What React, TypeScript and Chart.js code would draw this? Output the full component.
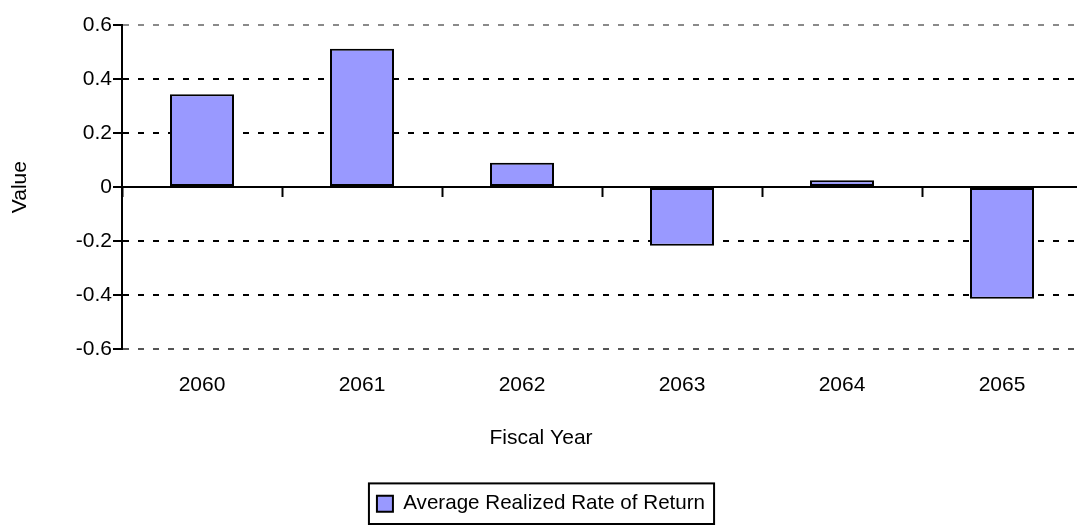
import React, { useEffect, useRef } from "react";
import { Chart, registerables } from "chart.js";

Chart.register(...registerables);

// ---- data ----
const categories: string[] = ["2060", "2061", "2062", "2063", "2064", "2065"];
const returnValues: number[] = [0.344, 0.512, 0.09, -0.217, 0.025, -0.413];
const yTickValues: number[] = [-0.6, -0.4, -0.2, 0, 0.2, 0.4, 0.6];
const seriesLabel = "Average Realized Rate of Return";
const xAxisTitle = "Fiscal Year";
const yAxisTitle = "Value";

const FONT = "'Liberation Sans', Arial, Helvetica, sans-serif";
const FS = 21;

const legendBorderPlugin = {
  id: "legendBorder",
  afterDraw(chart: any) {
    const lg = chart.legend;
    if (!lg || !lg.legendHitBoxes || !lg.legendHitBoxes.length) return;
    const hb = lg.legendHitBoxes[0];
    const ctx = chart.ctx;
    ctx.save();
    ctx.strokeStyle = "#000";
    ctx.lineWidth = 2;
    ctx.strokeRect(hb.left - 8, hb.top - 10, hb.width + 17, hb.height + 20);
    ctx.restore();
  },
};

export default function App() {
  const ref = useRef<HTMLCanvasElement | null>(null);

  useEffect(() => {
    if (!ref.current) return;
    Chart.defaults.font.family = FONT;
    Chart.defaults.color = "#000";
    const chart = new Chart(ref.current, {
      type: "bar",
      data: {
        labels: categories,
        datasets: [
          {
            label: seriesLabel,
            data: returnValues,
            backgroundColor: "#9999FF",
            borderColor: "#000",
            borderWidth: 2,
            borderSkipped: false,
            barPercentage: 0.4,
            categoryPercentage: 1.0,
            xAxisID: "x",
            yAxisID: "y",
          },
        ],
      },
      options: {
        responsive: false,
        animation: false,
        layout: { padding: { top: 25, right: 0, bottom: 4, left: 0 } },
        plugins: {
          tooltip: { enabled: false },
          title: {
            display: true,
            text: xAxisTitle,
            position: "bottom",
            weight: 500,
            color: "#000",
            font: { size: FS, family: FONT, weight: "normal" },
            padding: { top: 16, bottom: 33 },
          },
          legend: {
            display: true,
            position: "bottom",
            labels: {
              color: "#000",
              font: { size: 20.6, family: FONT },
              boxWidth: 16,
              boxHeight: 16,
              padding: 10,
            },
          },
        },
        scales: {
          x: {
            type: "category",
            position: { y: 0 } as any,
            offset: true,
            grid: {
              offset: true,
              drawOnChartArea: false,
              drawTicks: true,
              tickLength: 9,
              tickColor: "#000",
              tickWidth: 2,
            },
            border: { display: true, color: "#000", width: 2 },
            ticks: { display: false },
          },
          x2: {
            type: "category",
            position: "bottom",
            offset: true,
            grid: { display: false, drawTicks: false },
            border: { display: false },
            ticks: {
              color: "#000",
              font: { size: FS, family: FONT },
              padding: 23,
              maxRotation: 0,
            },
            afterFit: (s: any) => {
              s.height = 60;
            },
          },
          y: {
            type: "linear",
            position: "left",
            min: -0.6,
            max: 0.6,
            afterBuildTicks: (s: any) => {
              s.ticks = yTickValues.map((v) => ({ value: v }));
            },
            afterFit: (s: any) => {
              s.width = 122;
            },
            ticks: {
              color: "#000",
              font: { size: FS, family: FONT },
              padding: 1,
              callback: (v: any) => {
                const n = Math.round(Number(v) * 10) / 10;
                return n === 0 ? "0" : String(n);
              },
            },
            grid: {
              color: (c: any) => {
                const v = c.tick ? c.tick.value : null;
                if (v === 0.6) return "#8a8a8a";
                if (v === -0.6) return "#555";
                return "#000";
              },
              lineWidth: 2,
              drawTicks: true,
              tickLength: 9,
              tickColor: "#000",
              tickWidth: 2,
            },
            border: { display: true, color: "#000", width: 2, dash: [6, 9] },
            title: {
              display: true,
              text: yAxisTitle,
              color: "#000",
              font: { size: FS, family: FONT },
              padding: { top: 8, bottom: 0 },
            },
          },
        },
      },
      plugins: [legendBorderPlugin],
    } as any);
    return () => chart.destroy();
  }, []);

  return (
    <div
      style={{
        position: "fixed",
        left: 0,
        top: 0,
        width: 1077,
        height: 528,
        overflow: "hidden",
        background: "#fff",
      }}
    >
      <canvas ref={ref} width={1082} height={528} style={{ display: "block" }} />
    </div>
  );
}
